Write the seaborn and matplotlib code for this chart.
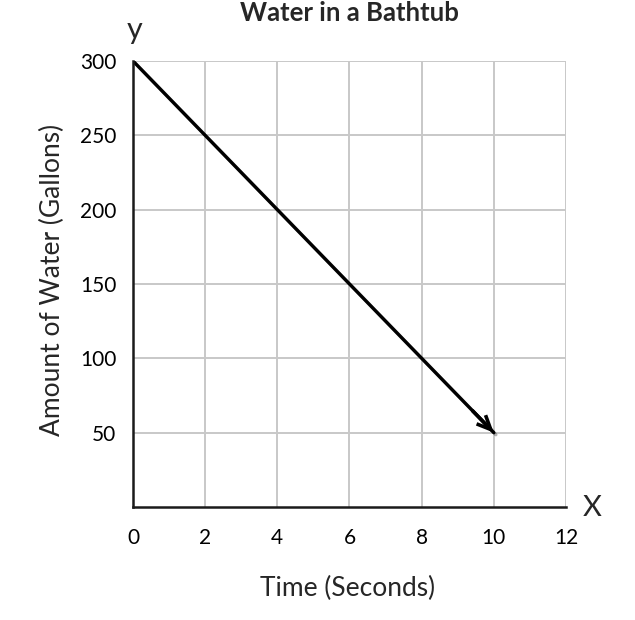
import numpy as np
import pandas as pd
import seaborn as sns
import matplotlib
matplotlib.use('Agg')
import matplotlib.pyplot as plt
import matplotlib.patheffects as pe

# data
time_s = [0, 10]
water_gal = [300, 50]
x_ticks = [0, 2, 4, 6, 8, 10, 12]
y_ticks = [50, 100, 150, 200, 250, 300]

sns.set_style('white')
plt.rcParams['font.family'] = ['Lato', 'DejaVu Sans']

fig = plt.figure(figsize=(6.35, 6.2), dpi=100)
ax = fig.add_axes([0.2094, 0.1823, 0.6819, 0.7194])

data = pd.DataFrame({'time': time_s, 'water': water_gal})
shadow = [pe.SimpleLineShadow(offset=(1.5, -1.5), alpha=0.3), pe.Normal()]
sns.lineplot(x='time', y='water', data=data, color='black', linewidth=2.4, ax=ax,
             path_effects=shadow)

# open arrowhead at the end of the line
ax.annotate('', xy=(time_s[-1], water_gal[-1]),
            xytext=(time_s[-1] - 0.6, water_gal[-1] + 15),
            arrowprops=dict(arrowstyle='->,head_length=1.0,head_width=0.45',
                            color='black', lw=2.6, shrinkA=0, shrinkB=0,
                            joinstyle='miter', capstyle='butt'))

ax.set_xlim(0, 12)
ax.set_ylim(0, 300)
ax.set_xticks(x_ticks)
ax.set_yticks(y_ticks)
ax.grid(True, color='#c8c8c8', linewidth=1.4)
ax.set_axisbelow(True)

for s in ['top', 'right']:
    ax.spines[s].set_visible(False)
for s in ['left', 'bottom']:
    ax.spines[s].set_color('#1a1a1a')
    ax.spines[s].set_linewidth(1.8)

ax.tick_params(axis='both', direction='in', length=6, width=1.8, color='#1a1a1a',
               labelsize=15, labelcolor='black')
ax.tick_params(axis='x', pad=15)
ax.tick_params(axis='y', pad=12)
ax.set_xlabel('')
ax.set_ylabel('')

fig.text(0.55, 0.979, 'Water in a Bathtub', ha='center', va='center',
         fontsize=18.5, fontweight='bold')
fig.text(0.212, 0.951, 'y', ha='center', va='center', fontsize=22)
fig.text(0.933, 0.180, 'X', ha='center', va='center', fontsize=21)
fig.text(0.548, 0.051, 'Time (Seconds)', ha='center', va='center', fontsize=19)
fig.text(0.082, 0.548, 'Amount of Water (Gallons)', ha='center', va='center',
         fontsize=19, rotation=90)

fig.savefig('out.png', dpi=100)
